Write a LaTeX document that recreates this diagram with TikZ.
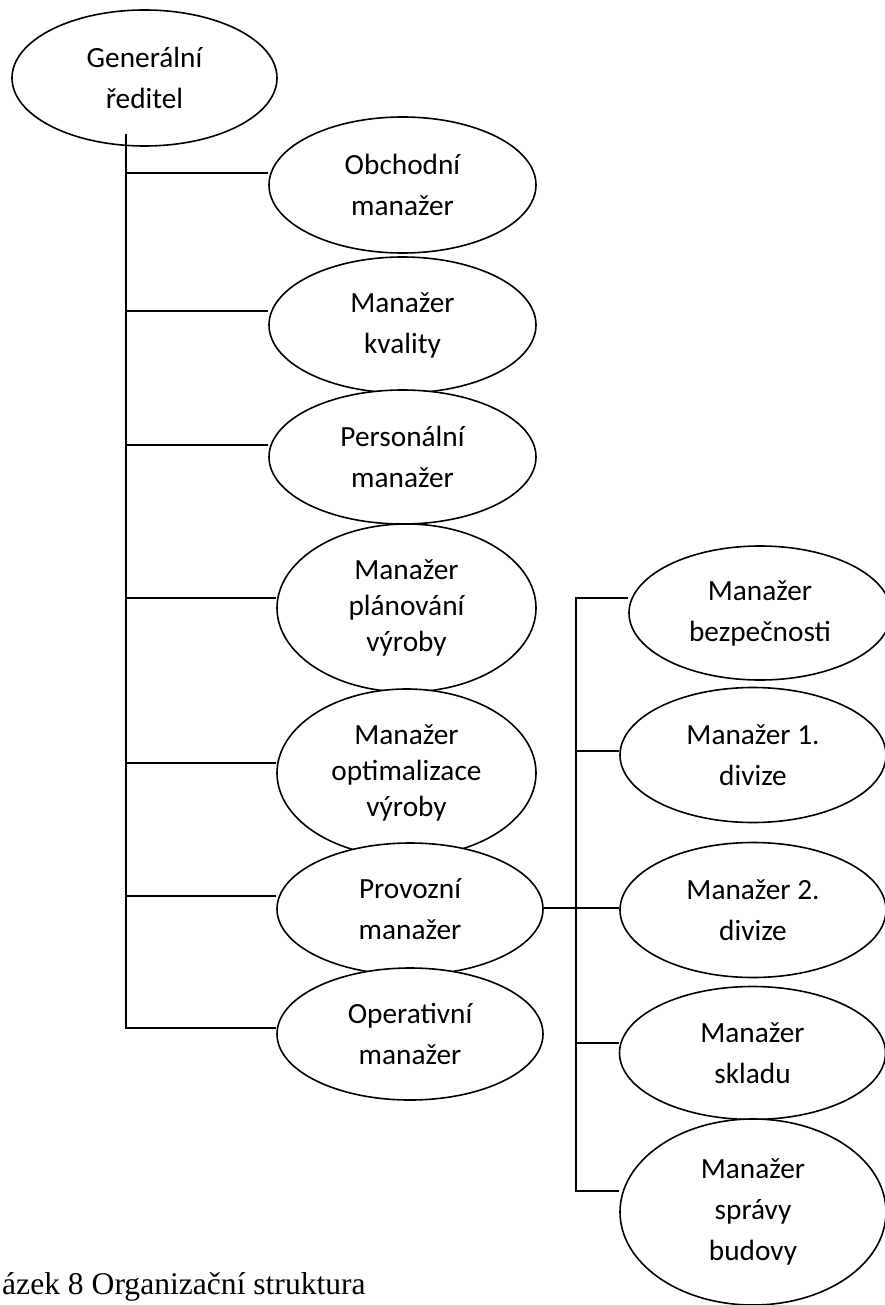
\documentclass[tikz,border=0pt]{standalone}
\usepackage{fontspec}
\setmainfont{Carlito}
\newfontfamily\captionfont{Liberation Serif}
\usetikzlibrary{shapes.geometric,backgrounds}

\tikzset{
  unit/.style={ellipse, draw, line width=1.6pt, fill=white, inner sep=0pt,
    align=center, font=\fontsize{29.3}{41}\selectfont},
  tight/.style={font=\fontsize{29.3}{36}\selectfont},
  link/.style={line width=1.9pt},
}

\begin{document}
\begin{tikzpicture}[x=1pt,y=-1pt]
\useasboundingbox (0,0) rectangle (885,1305);
\begin{scope}[on background layer]
  \fill[white] (0,0) rectangle (885,1305);
\end{scope}

% director and the units reporting to him
\node[unit, minimum width=265pt, minimum height=136pt] (gen) at (144.5,78) {Generální\\ředitel};
\node[unit, minimum width=267pt, minimum height=136pt] (obch) at (402.5,185) {Obchodní\\manažer};
\node[unit, minimum width=267pt, minimum height=136pt] (kval) at (402.5,325) {Manažer\\kvality};
\node[unit, minimum width=267pt, minimum height=134pt] (pers) at (402.5,457) {Personální\\manažer};
\node[unit, tight, minimum width=259pt, minimum height=168pt] (plan) at (406.5,608) {Manažer\\plánování\\výroby};
\node[unit, tight, minimum width=259pt, minimum height=168pt] (opt) at (406.5,773) {Manažer\\optimalizace\\výroby};
\node[unit, minimum width=266pt, minimum height=132pt] (prov) at (410,909) {Provozní\\manažer};
\node[unit, minimum width=266pt, minimum height=132pt] (oper) at (410,1034) {Operativní\\manažer};

% units under the operations manager
\node[unit, minimum width=262pt, minimum height=134pt] (bez) at (760,613) {Manažer\\bezpečnosti};
\node[unit, minimum width=266pt, minimum height=135pt] (div1) at (753,755) {Manažer 1.\\divize};
\node[unit, minimum width=266pt, minimum height=135pt] (div2) at (753,910) {Manažer 2.\\divize};
\node[unit, minimum width=266pt, minimum height=133pt] (skl) at (752.5,1053) {Manažer\\skladu};
\node[unit, minimum width=266pt, minimum height=186pt] (spr) at (753,1212) {Manažer\\správy\\budovy};

% junctions on the two vertical lines
\coordinate (top) at (126,134);
\coordinate (j1) at (126,173);
\coordinate (j2) at (126,311);
\coordinate (j3) at (126,445);
\coordinate (j4) at (126,598);
\coordinate (j5) at (126,763);
\coordinate (j6) at (126,896);
\coordinate (j7) at (126,1028);
\coordinate (k1) at (576,598);
\coordinate (k2) at (576,751);
\coordinate (k3) at (576,908);
\coordinate (k4) at (576,1043);
\coordinate (k5) at (576,1191);

\begin{scope}[on background layer]
  \draw[link] (j1) -- (j1 -| obch.west);
  \draw[link] (j2) -- (j2 -| kval.west);
  \draw[link] (j3) -- (j3 -| pers.west);
  \draw[link] (j4) -- (j4 -| plan.west);
  \draw[link] (j5) -- (j5 -| opt.west);
  \draw[link] (j6) -- (j6 -| prov.west);
  \draw[link] (k3 -| prov.east) -- (k3 -| div2.west);
  \draw[link] (k1 -| bez.west) -- (k1) -- (k5) -- (k5 -| spr.west);
  \draw[link] (k2) -- (k2 -| div1.west);
  \draw[link] (k4) -- (k4 -| skl.west);
\end{scope}
\draw[link] (top) -- (j7) -- (j7 -| oper.west);

% figure caption
\node[anchor=base west, inner sep=0pt, font=\captionfont\fontsize{31.6}{38}\selectfont] (cap) at (2,1294) {ázek 8 Organizační struktura};
\end{tikzpicture}
\end{document}
